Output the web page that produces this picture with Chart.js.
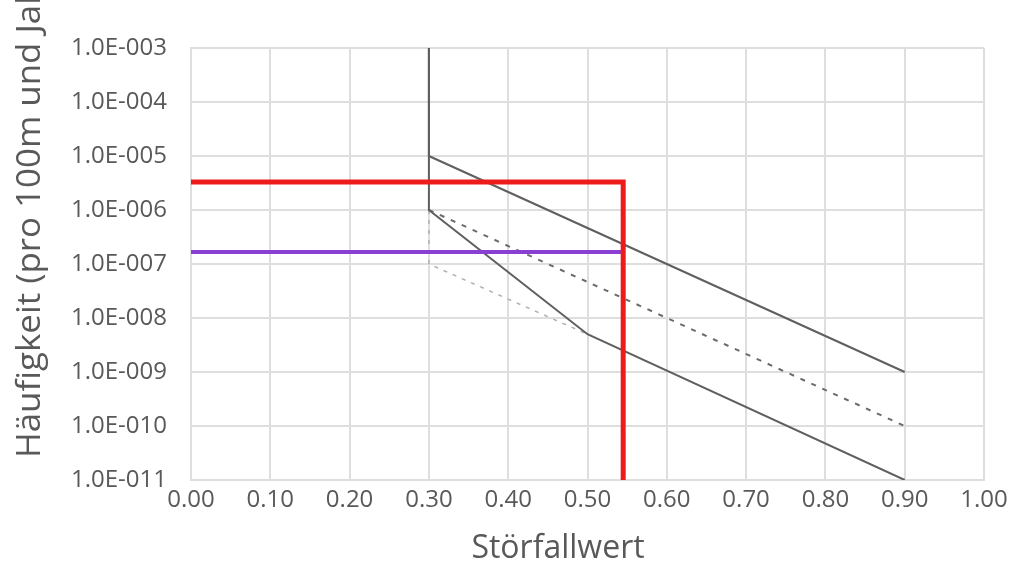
<!DOCTYPE html>
<html>
<head>
<meta charset="utf-8">
<script src="https://cdn.jsdelivr.net/npm/chart.js"></script>
<style>
  html, body { margin: 0; padding: 0; background: #fff; }
  #wrap { position: relative; width: 1018px; height: 565px; }
</style>
</head>
<body>
<div id="wrap"><canvas id="riskChart"></canvas></div>
<script>
// axis ticks
const xTickLabels = ['0.00','0.10','0.20','0.30','0.40','0.50','0.60','0.70','0.80','0.90','1.00'];
const yTicks      = [1e-3, 1e-4, 1e-5, 1e-6, 1e-7, 1e-8, 1e-9, 1e-10, 1e-11];
const yTickLabels = ['1.0E-003','1.0E-004','1.0E-005','1.0E-006','1.0E-007','1.0E-008','1.0E-009','1.0E-010','1.0E-011'];

// limit lines (Störfallwert vs Häufigkeit)
const upperX = [0.3, 0.3, 0.9];
const upperY = [1e-3, 1e-5, 1e-9];
const lowerX = [0.3, 0.3, 0.5, 0.9];
const lowerY = [1e-3, 1e-6, 5e-9, 1e-11];
const midDashX = [0.3, 0.9];
const midDashY = [1e-6, 1e-10];
const lightDashX = [0.3, 0.3, 0.5];
const lightDashY = [1e-6, 1e-7, 5e-9];

// marked point
const redX = [0, 0.545, 0.545];
const redY = [3.3e-6, 3.3e-6, 1e-11];
const purpleX = [0, 0.545];
const purpleY = [1.67e-7, 1.67e-7];

const textColor = '#595959';
const gridColor = '#dedede';

const pts = (xs, ys) => xs.map((x, i) => ({ x, y: ys[i] }));

function line(data, color, width, dash) {
  return {
    data,
    borderColor: color,
    borderWidth: width,
    borderDash: dash || [],
    borderJoinStyle: 'miter',
    pointRadius: 0,
    fill: false,
    tension: 0
  };
}

const axisTitles = {
  id: 'axisTitles',
  afterDraw(chart) {
    const ctx = chart.ctx;
    ctx.save();
    ctx.fillStyle = textColor;
    ctx.font = '32px "Open Sans"';
    ctx.textBaseline = 'alphabetic';
    ctx.textAlign = 'center';
    ctx.fillText('Störfallwert', 558, 558);
    // y title runs off the top, like in the source picture
    ctx.translate(40, 458);
    ctx.rotate(-Math.PI / 2);
    ctx.scale(1.09, 1);
    ctx.textAlign = 'left';
    ctx.fillText('Häufigkeit (pro 100m und Jahr)', 0, 0);
    ctx.restore();
  }
};

new Chart(document.getElementById('riskChart'), {
  type: 'line',
  data: {
    datasets: [
      line(pts(redX, redY), '#ee1b1b', 5),
      line(pts(purpleX, purpleY), '#8a3fd3', 4),
      line(pts(upperX, upperY), '#5f5f5f', 2),
      line(pts(lowerX, lowerY), '#5f5f5f', 2),
      line(pts(midDashX, midDashY), '#6a6a6a', 2, [5, 7]),
      line(pts(lightDashX, lightDashY), '#b0b0b0', 1.5, [4, 6])
    ]
  },
  options: {
    responsive: true,
    maintainAspectRatio: false,
    animation: false,
    layout: { padding: { left: 0, right: 34, top: 48, bottom: 0 } },
    scales: {
      x: {
        type: 'linear',
        min: 0,
        max: 1,
        grid: { color: gridColor, lineWidth: 2, drawTicks: false },
        border: { color: gridColor, width: 2 },
        ticks: {
          stepSize: 0.1,
          padding: 6,
          color: textColor,
          font: { family: 'Open Sans', size: 24 },
          maxRotation: 0,
          callback: (v, i) => xTickLabels[i]
        },
        afterFit(scale) { scale.height = 85; }
      },
      y: {
        type: 'logarithmic',
        min: 1e-11,
        max: 1e-3,
        grid: { color: gridColor, lineWidth: 2, drawTicks: false },
        border: { color: gridColor, width: 2 },
        afterBuildTicks(scale) {
          scale.ticks = yTicks.map(v => ({ value: v, major: false }));
        },
        ticks: {
          padding: 24,
          color: textColor,
          font: { family: 'Open Sans', size: 24 },
          autoSkip: false,
          callback: (v) => yTickLabels[yTicks.findIndex(t => Math.abs(Math.log10(t) - Math.log10(v)) < 1e-6)]
        },
        afterFit(scale) { scale.width = 191; }
      }
    },
    plugins: {
      legend: { display: false },
      tooltip: { enabled: false }
    }
  },
  plugins: [axisTitles]
});
</script>
</body>
</html>
